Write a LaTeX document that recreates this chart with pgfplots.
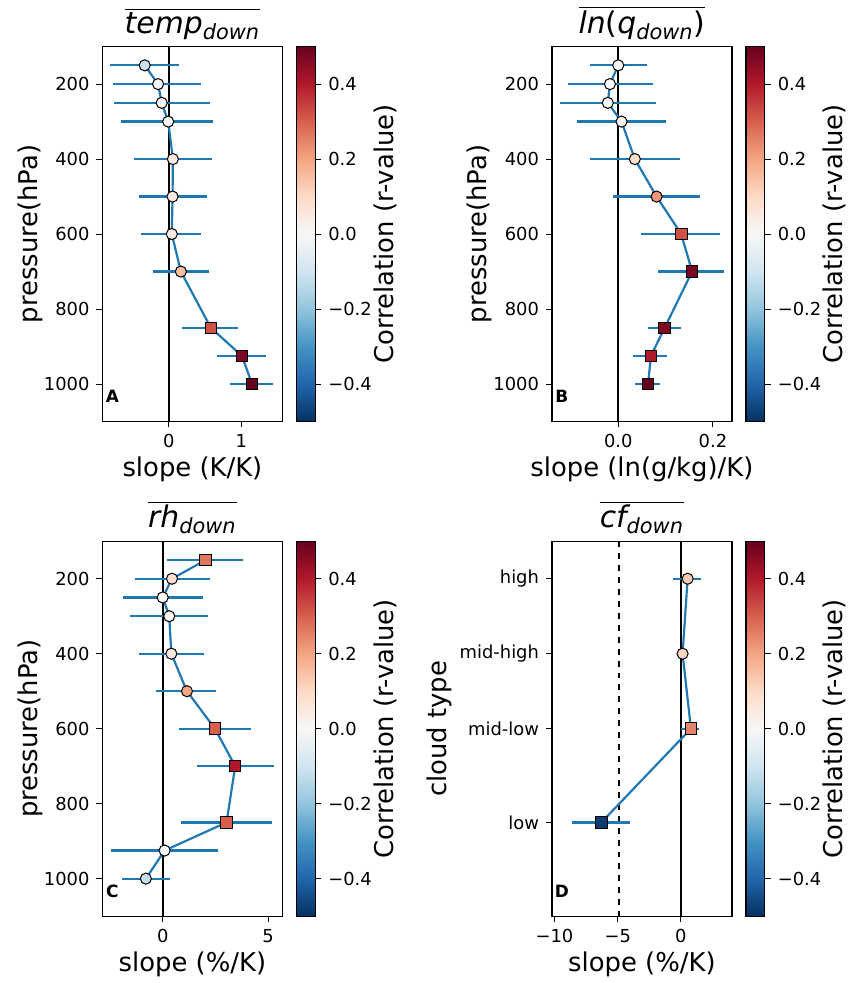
\documentclass[border=0pt]{standalone}
\usepackage{fontspec}
\setmainfont{DejaVu Sans}
\usepackage{pgfplots}
\usepackage{pgfplotstable}
\pgfplotsset{compat=1.18}
\definecolor{mplblue}{HTML}{1F77B4}
\tikzset{letter/.style={font=\bfseries\fontsize{8.5}{10}\selectfont}}

% r-value colour scale (RdBu reversed)
\pgfplotsset{
  colormap={rdbu}{rgb255=(5,48,97) rgb255=(33,102,172) rgb255=(67,147,195) rgb255=(146,197,222) rgb255=(209,229,240) rgb255=(247,247,247) rgb255=(253,219,199) rgb255=(244,165,130) rgb255=(214,96,77) rgb255=(178,24,43) rgb255=(103,0,31)},
  panel/.style={
    scale only axis, width=90.5pt, height=188.5pt, anchor=north west,
    y dir=reverse, ymin=100, ymax=1100,
    ytick={200,400,600,800,1000}, yticklabels={200,400,600,800,1000},
    tick pos=left, tick align=outside, major tick length=3pt,
    tick style={black, line width=0.5pt},
    axis line style={line width=0.6pt},
    ylabel={pressure(hPa)},
    ylabel style={at={(axis description cs:-0.403,0.5)}, anchor=center},
    xlabel style={yshift=2.5pt},
    label style={font=\fontsize{13}{15}\selectfont},
    tick label style={font=\fontsize{9}{11}\selectfont},
    title style={font=\fontsize{15}{17}\selectfont, yshift=-6pt},
    point meta min=-0.5, point meta max=0.5,
    colorbar,
    colorbar/width=9.5pt,
    colorbar style={
      at={(parent axis.north east)}, anchor=north west, xshift=-1.5pt,
      scale only axis, width=9.5pt, height=188.5pt,
      y dir=normal,
      ytick={-0.4,-0.2,0,0.2,0.4},
      yticklabels={−0.4,−0.2,0.0,0.2,0.4},
      ytick pos=right, yticklabel pos=right,
      tick align=outside, major tick length=3pt,
      tick style={black, line width=0.5pt},
      axis line style={line width=0.6pt},
      ylabel={Correlation (r-value)},
      ylabel style={font=\fontsize{13}{15}\selectfont,
        at={(axis description cs:4.7,0.5)}, anchor=center},
      yticklabel style={font=\fontsize{9}{11}\selectfont},
    },
  },
  errline/.style={mplblue, line width=1.1pt, error bars/.cd, x dir=both, x explicit,
    error mark=none, error bar style={mplblue, line width=1.1pt}},
  dots/.style={scatter, only marks, mark size=2.8pt, point meta=explicit,
    scatter/use mapped color={draw=black, fill=mapped color, line width=0.5pt}},
}

\pgfplotstableread{
p x lo hi r sq
150 -0.335 -0.81 0.14 -0.11 0
200 -0.15 -0.78 0.45 -0.02 0
250 -0.10 -0.76 0.57 -0.01 0
300 -0.01 -0.66 0.61 0.0 0
400 0.055 -0.49 0.60 0.05 0
500 0.05 -0.42 0.53 0.05 0
600 0.04 -0.38 0.45 0.04 0
700 0.165 -0.22 0.555 0.15 0
850 0.58 0.18 0.96 0.32 1
925 1.01 0.665 1.34 0.47 1
1000 1.15 0.84 1.44 0.5 1
}\tempdata

\pgfplotstableread{
p x lo hi r sq
150 0.0 -0.06 0.061 0.0 0
200 -0.0175 -0.107 0.073 0.0 0
250 -0.022 -0.122 0.08 0.0 0
300 0.007 -0.087 0.10 0.02 0
400 0.035 -0.06 0.131 0.09 0
500 0.081 -0.011 0.172 0.22 0
600 0.133 0.048 0.215 0.32 1
700 0.156 0.085 0.223 0.48 1
850 0.098 0.062 0.133 0.47 1
925 0.069 0.032 0.102 0.40 1
1000 0.063 0.036 0.088 0.5 1
}\qdata

\pgfplotstableread{
p x lo hi r sq
150 2.04 0.2 3.8 0.27 1
200 0.44 -1.3 2.25 0.08 0
250 0.0 -1.89 1.92 0.0 0
300 0.31 -1.54 2.15 0.02 0
400 0.41 -1.13 1.98 0.05 0
500 1.15 -0.3 2.53 0.2 0
600 2.48 0.75 4.18 0.3 1
700 3.44 1.62 5.28 0.4 1
850 3.03 0.85 5.17 0.3 1
925 0.09 -2.47 2.61 0.0 0
1000 -0.8 -1.95 0.35 -0.12 0
}\rhdata

\pgfplotstableread{
p x lo hi r sq
200 0.53 -0.6 1.55 0.13 0
400 0.13 -0.2 0.45 0.11 0
600 0.79 0.0 1.4 0.25 1
850 -6.29 -8.6 -4.05 -0.48 1
}\cfdata

\newcommand{\panelplots}[1]{%
  \addplot[errline] table[x=x, y=p,
    x error minus expr=\thisrow{x}-\thisrow{lo},
    x error plus expr=\thisrow{hi}-\thisrow{x}] {#1};
  \addplot[dots, mark=*, restrict expr to domain={\thisrow{sq}}{-0.5:0.5}]
    table[x=x, y=p, meta=r] {#1};
  \addplot[dots, mark=square*, mark size=2.9pt, restrict expr to domain={\thisrow{sq}}{0.5:1.5}]
    table[x=x, y=p, meta=r] {#1};
}

\begin{document}
\begin{tikzpicture}
\path (0,0) rectangle (431pt,-491.5pt);

% A
\begin{axis}[panel, at={(51.5pt,-23pt)},
  xmin=-0.92, xmax=1.57, xtick={0,1}, xticklabels={0,1},
  xlabel={slope (K/K)},
  title={$\overline{\mbox{\itshape temp\textsubscript{down}}}$}]
\addplot[black, line width=0.8pt] coordinates {(0,100) (0,1100)};
\panelplots{\tempdata}
\node[letter] at (rel axis cs:0.055,0.066) {A};
\end{axis}

% B
\begin{axis}[panel, at={(277.5pt,-23pt)},
  xmin=-0.14, xmax=0.24, xtick={0,0.2}, xticklabels={0.0,0.2},
  xlabel={slope (ln(g/kg)/K)},
  title={$\overline{\mbox{\itshape ln\upshape(\itshape q\textsubscript{down}\upshape)}}$}]
\addplot[black, line width=0.8pt] coordinates {(0,100) (0,1100)};
\panelplots{\qdata}
\node[letter] at (rel axis cs:0.055,0.066) {B};
\end{axis}

% C
\begin{axis}[panel, at={(51.5pt,-271.7pt)},
  xmin=-2.86, xmax=5.68, xtick={0,5}, xticklabels={0,5},
  xlabel={slope (\%/K)},
  title={$\overline{\mbox{\itshape rh\textsubscript{down}}}$}]
\addplot[black, line width=0.8pt] coordinates {(0,100) (0,1100)};
\panelplots{\rhdata}
\node[letter] at (rel axis cs:0.055,0.066) {C};
\end{axis}

% D
\begin{axis}[panel, at={(277.5pt,-271.7pt)},
  xmin=-10.2, xmax=4.03, xtick={-10,-5,0}, xticklabels={−10,−5,0},
  ytick={200,400,600,850}, yticklabels={high,mid-high,mid-low,low},
  ylabel={cloud type},
  ylabel style={at={(axis description cs:-0.628,0.5)}},
  xlabel={slope (\%/K)},
  title={$\overline{\mbox{\itshape cf\textsubscript{down}}}$}]
\addplot[black, line width=0.8pt] coordinates {(0,100) (0,1100)};
\addplot[black, dashed, line width=0.8pt] coordinates {(-4.9,100) (-4.9,1100)};
\panelplots{\cfdata}
\node[letter] at (rel axis cs:0.055,0.066) {D};
\end{axis}
\end{tikzpicture}
\end{document}
